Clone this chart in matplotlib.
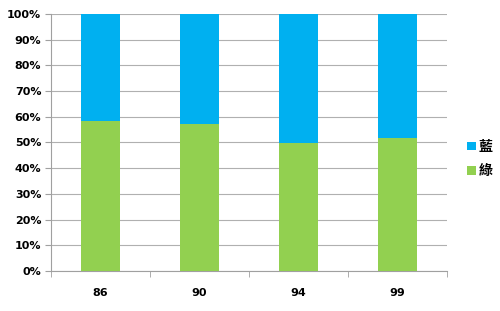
import numpy as np
import matplotlib.pyplot as plt
from matplotlib.ticker import PercentFormatter

plt.rcParams['font.family'] = ['DejaVu Sans', 'Noto Sans CJK TC']

categories = ['86', '90', '94', '99']
green = [58.5, 57.2, 49.7, 51.6]
blue = [41.5, 42.8, 50.3, 48.4]
labels = ['藍', '綠']

fig = plt.figure(figsize=(5, 3.11), dpi=100)
ax = fig.add_axes([0.102, 0.129, 0.792, 0.826])

x = np.arange(len(categories))
b1 = ax.bar(x, green, 0.4, color='#92D050', zorder=3)
b2 = ax.bar(x, blue, 0.4, bottom=green, color='#00B0F0', zorder=3)

ax.set_xlim(-0.5, len(categories) - 0.5)
ax.set_ylim(0, 100)
ax.set_yticks(np.arange(0, 101, 10))
ax.yaxis.set_major_formatter(PercentFormatter(decimals=0))
ax.set_xticks(x)
ax.set_xticklabels(categories)
ax.set_xticks(np.arange(-0.5, len(categories), 1), minor=True)
ax.tick_params(axis='x', which='major', length=0, pad=12)
ax.tick_params(axis='x', which='minor', length=4, color='#A0A0A0', direction='out')
ax.tick_params(axis='y', length=4, color='#A0A0A0', pad=3)
for t in ax.get_xticklabels() + ax.get_yticklabels():
    t.set_fontsize(8)
    t.set_fontweight('bold')

ax.grid(axis='y', color='#B0B0B0', linewidth=0.8, zorder=0)
for s in ['top', 'right']:
    ax.spines[s].set_visible(False)
ax.spines['left'].set_color('#A0A0A0')
ax.spines['bottom'].set_color('#A0A0A0')

leg = ax.legend((b2[0], b1[0]), labels, loc='center left', bbox_to_anchor=(1.02, 0.435),
                frameon=False, handlelength=0.6, handleheight=0.6, handletextpad=0.2,
                labelspacing=0.75, prop={'family': 'Noto Sans CJK TC', 'size': 10, 'weight': 'bold'})

plt.savefig('out.png')
